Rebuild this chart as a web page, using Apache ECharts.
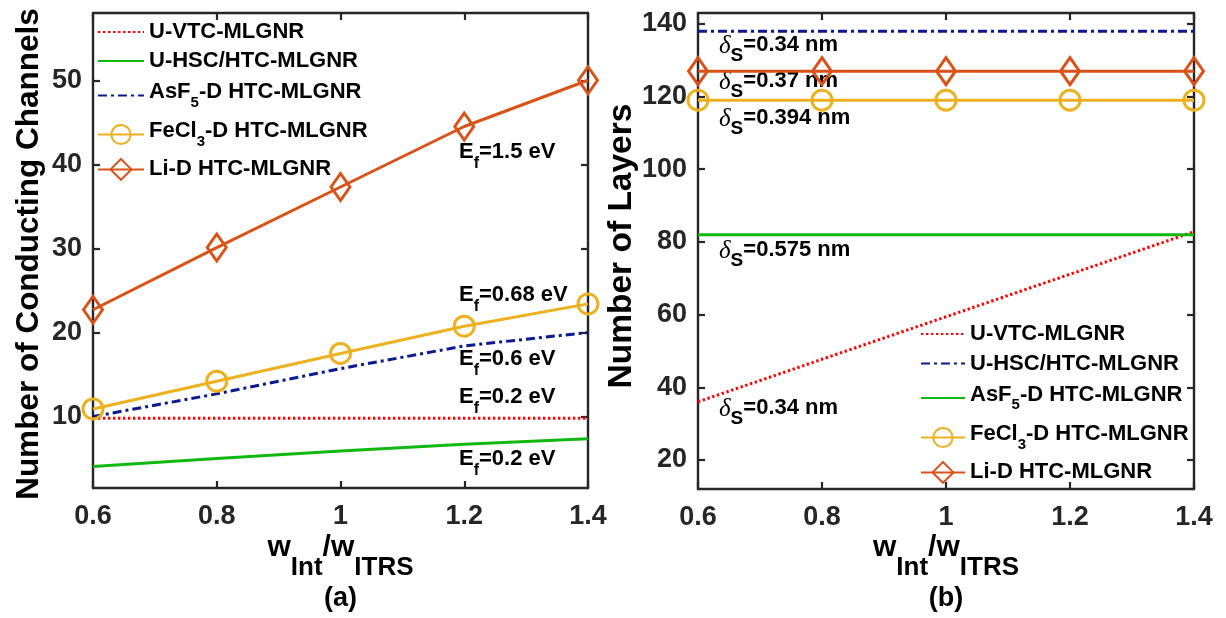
<!DOCTYPE html>
<html><head><meta charset="utf-8">
<script src="https://cdn.jsdelivr.net/npm/echarts@6/dist/echarts.min.js"></script>
<style>html,body{margin:0;padding:0;background:#fff}#c{width:1226px;height:618px}</style>
</head><body><div id="c"></div>
<script>
// ---- data ----
const xVals = [0.6, 0.8, 1.0, 1.2, 1.4];
const xTicks = [0.6, 0.8, 1.0, 1.2, 1.4];
const yTicksA = [10, 20, 30, 40, 50];
const yTicksB = [20, 40, 60, 80, 100, 120, 140];
// (a) number of conducting channels
const aVtc  = [9.8, 9.8, 9.8, 9.8, 9.8];
const aHsc  = [4.05, 5.0, 5.9, 6.7, 7.35];
const aAsf  = [10.0, 12.7, 15.7, 18.4, 20.0];
const aFecl = [10.9, 14.2, 17.5, 20.75, 23.4];
const aLi   = [22.7, 30.1, 37.3, 44.5, 50.0];
// (b) number of layers
const bVtc  = [36.0, 47.7, 59.4, 71.1, 82.8];
const bHsc  = [138, 138, 138, 138, 138];
const bAsf  = [82, 82, 82, 82, 82];
const bFecl = [119, 119, 119, 119, 119];
const bLi   = [127, 127, 127, 127, 127];

const F = "'Liberation Sans', Arial, Helvetica, sans-serif";
const AX = '#262626';
const C = { red:'#FF0000', green:'#10B810', blue:'#0A1A8F', orange:'#EDB120', li:'#D95319' };
const DOT = [2.4, 2.6], DASHDOT = [9, 4, 3, 4];

const pts = arr => xVals.map((x, i) => [x, arr[i]]);

function ser(name, idx, arr, color, dash, symbol, size) {
  return {
    name, type:'line', xAxisIndex: idx*2, yAxisIndex: idx*2, data: pts(arr),
    symbol: symbol || 'none', symbolSize: size || 0, showSymbol: !!symbol,
    lineStyle: { color, width: 3, type: dash || 'solid' },
    itemStyle: { color: 'rgba(0,0,0,0)', borderColor: color, borderWidth: 3 },
    emphasis: { disabled: true }, silent: true, z: 3, clip: false
  };
}

function xAx(g, top) {
  return { gridIndex:g, type:'value', min:0.6, max:1.4, position: top ? 'top' : 'bottom',
    axisLine:{ show:true, onZero:false, lineStyle:{ color:AX, width:2.4 } },
    axisTick:{ show:true, inside:true, length:7, customValues:xTicks, lineStyle:{ color:AX, width:2.2 } },
    axisLabel:{ show:!top, customValues:xTicks, margin:15, fontSize:27, fontWeight:'bold', color:AX, fontFamily:F,
      formatter: v => String(Math.round(v*10)/10) },
    splitLine:{ show:false } };
}
function yAx(g, right, min, max, ticks) {
  return { gridIndex:g, type:'value', min, max, position: right ? 'right' : 'left',
    axisLine:{ show:true, onZero:false, lineStyle:{ color:AX, width:2.4 } },
    axisTick:{ show:true, inside:true, length:7, customValues:ticks, lineStyle:{ color:AX, width:2.2 } },
    axisLabel:{ show:!right, customValues:ticks, margin:11, fontSize:27, fontWeight:'bold', color:AX, fontFamily:F },
    splitLine:{ show:false } };
}

// rich text: main tokens top-aligned in a tall line, subscript tokens bottom-aligned
const legRich = {
  n:{ fontSize:22, fontWeight:'bold', fontFamily:F, color:'#000', lineHeight:24 },
  m:{ fontSize:22, fontWeight:'bold', fontFamily:F, color:'#000', lineHeight:29, verticalAlign:'top' },
  s:{ fontSize:15, fontWeight:'bold', fontFamily:F, color:'#000', verticalAlign:'bottom' }
};
const legText = {
  'U-VTC-MLGNR':'{n|U-VTC-MLGNR}',
  'U-HSC/HTC-MLGNR':'{n|U-HSC/HTC-MLGNR}',
  'AsF5-D HTC-MLGNR':'{m|AsF}{s|5}{m|-D HTC-MLGNR}',
  'FeCl3-D HTC-MLGNR':'{m|FeCl}{s|3}{m|-D HTC-MLGNR}',
  'Li-D HTC-MLGNR':'{n|Li-D HTC-MLGNR}'
};
function leg(name, left, top, iw, ih, hideSym) {
  const o = { data:[name], left, top, padding:0, itemWidth:iw, itemHeight:ih, selectedMode:false,
    formatter: n => legText[n.split(':')[1]],
    textStyle:{ fontFamily:F, fontSize:22, fontWeight:'bold', color:'#000', rich: legRich } };
  if (hideSym) o.itemStyle = { opacity: 0 };
  return o;
}

const annRich = {
  m:{ fontSize:22, fontWeight:'bold', fontFamily:F, color:'#000', lineHeight:31, verticalAlign:'top' },
  s:{ fontSize:16, fontWeight:'bold', fontFamily:F, color:'#000', verticalAlign:'bottom' },
  d:{ fontSize:25, fontStyle:'italic', fontFamily:"'Liberation Serif', 'Times New Roman', serif", color:'#000', lineHeight:31.5, verticalAlign:'top' },
  M:{ fontSize:22, fontWeight:'bold', fontFamily:F, color:'#000', lineHeight:31.5, verticalAlign:'top' },
  S:{ fontSize:19, fontWeight:'bold', fontFamily:F, color:'#000', verticalAlign:'bottom' }
};
const efLabels = [['1.5', 151.5], ['0.68', 295], ['0.6', 359], ['0.2', 397], ['0.2', 459]];
const dsLabels = [['0.34', 44.5], ['0.37', 81], ['0.394', 117.5], ['0.575', 249.5], ['0.34', 407.5]];

const ttlRich = {
  m:{ fontSize:30, fontWeight:'bold', fontFamily:F, color:'#000', lineHeight:48, verticalAlign:'top' },
  s:{ fontSize:26, fontWeight:'bold', fontFamily:F, color:'#000', verticalAlign:'bottom' }
};
const xTitle = '{m|w}{s|Int}{m|/w}{s|ITRS}';

const graphic = [];
efLabels.forEach(([v, cy]) => graphic.push({ type:'text', x:459, y:cy-11, silent:true,
  style:{ text:'{m|E}{s|f}{m|=' + v + ' eV}', rich:annRich, align:'left', verticalAlign:'top', fontFamily:F } }));
dsLabels.forEach(([v, cy]) => graphic.push({ type:'text', x:719, y:cy-11, silent:true,
  style:{ text:'{d|δ}{S|S}{M|=' + v + ' nm}', rich:annRich, align:'left', verticalAlign:'top', fontFamily:F } }));
[[340.5, '(a)'], [946, '(b)']].forEach(([cx, lab]) => {
  graphic.push({ type:'text', x:cx, y:532.5, silent:true,
    style:{ text:xTitle, rich:ttlRich, align:'center', verticalAlign:'top', fontFamily:F } });
  graphic.push({ type:'text', x:cx, y:599, silent:true,
    style:{ text:lab, fontSize:27, fontWeight:'bold', fontFamily:F, fill:'#000', align:'center', verticalAlign:'middle' } });
});
graphic.push({ type:'text', x:29, y:254, rotation:Math.PI/2, silent:true,
  style:{ text:'Number of Conducting Channels', fontSize:31.5, fontWeight:'bold', fontFamily:F, fill:'#000', align:'center', verticalAlign:'middle' } });
graphic.push({ type:'text', x:622, y:246, rotation:Math.PI/2, silent:true,
  style:{ text:'Number of Layers', fontSize:33.5, fontWeight:'bold', fontFamily:F, fill:'#000', align:'center', verticalAlign:'middle' } });

const option = {
  animation:false,
  backgroundColor:'#fff',
  grid:[ { left:93, top:13, width:495, height:475 }, { left:698, top:13, width:496, height:476 } ],
  xAxis:[ xAx(0,false), xAx(0,true), xAx(1,false), xAx(1,true) ],
  yAxis:[ yAx(0,false,1.5,58,yTicksA), yAx(0,true,1.5,58,yTicksA), yAx(1,false,12,143,yTicksB), yAx(1,true,12,143,yTicksB) ],
  series:[
    ser('a:U-VTC-MLGNR', 0, aVtc, C.red, DOT),
    ser('a:U-HSC/HTC-MLGNR', 0, aHsc, C.green, 'solid'),
    ser('a:AsF5-D HTC-MLGNR', 0, aAsf, C.blue, DASHDOT),
    ser('a:FeCl3-D HTC-MLGNR', 0, aFecl, C.orange, 'solid', 'circle', 20),
    ser('a:Li-D HTC-MLGNR', 0, aLi, C.li, 'solid', 'diamond', [19, 27]),
    ser('b:U-VTC-MLGNR', 1, bVtc, C.red, DOT),
    ser('b:U-HSC/HTC-MLGNR', 1, bHsc, C.blue, DASHDOT),
    ser('b:AsF5-D HTC-MLGNR', 1, bAsf, C.green, 'solid'),
    ser('b:FeCl3-D HTC-MLGNR', 1, bFecl, C.orange, 'solid', 'circle', 20),
    ser('b:Li-D HTC-MLGNR', 1, bLi, C.li, 'solid', 'diamond', [19, 27])
  ],
  legend:[
    leg('a:U-VTC-MLGNR', 97, 21, 46, 14, true),
    leg('a:U-HSC/HTC-MLGNR', 97, 50, 46, 14, true),
    leg('a:AsF5-D HTC-MLGNR', 97, 81, 46, 14, true),
    leg('a:FeCl3-D HTC-MLGNR', 97, 120, 46, 24, false),
    leg('a:Li-D HTC-MLGNR', 97, 158, 46, 26, false),
    leg('b:U-VTC-MLGNR', 920, 323, 44, 14, true),
    leg('b:U-HSC/HTC-MLGNR', 920, 352.5, 44, 14, true),
    leg('b:AsF5-D HTC-MLGNR', 920, 383.5, 44, 14, true),
    leg('b:FeCl3-D HTC-MLGNR', 920, 423, 44, 24, false),
    leg('b:Li-D HTC-MLGNR', 920, 461, 44, 26, false)
  ],
  graphic
};
const chart = echarts.init(document.getElementById('c'), null, { renderer:'canvas' });
chart.setOption(option);
</script></body></html>
